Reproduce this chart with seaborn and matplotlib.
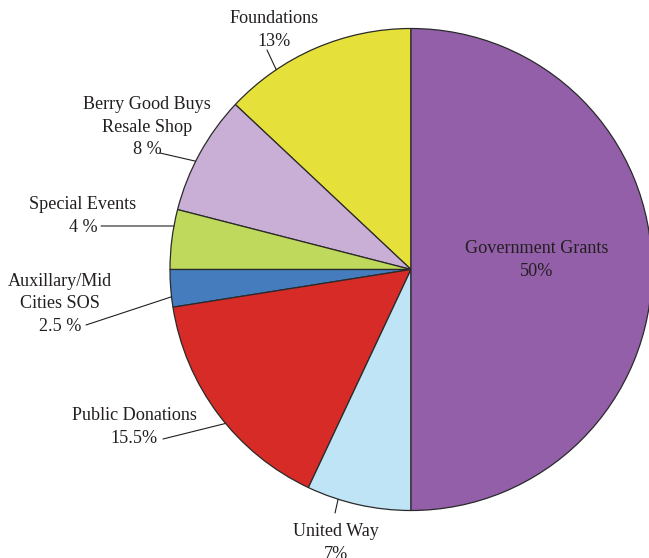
import numpy as np
import seaborn as sns
import matplotlib.pyplot as plt

# Funding sources (counter-clockwise from 12 o'clock)
sources = ['Foundations', 'Berry Good Buys\nResale Shop', 'Special Events',
           'Auxillary/Mid\nCities SOS', 'Public Donations', 'United Way',
           'Government Grants']
shares = [13, 8, 4, 2.5, 15.5, 7, 50]
share_labels = ['13%', '8 %', '4 %', '2.5 %', '15.5%', '7%', '50%']
slice_colors = ['#E5E13A', '#C9AFD5', '#BFD95C', '#457CBD',
                '#D62B27', '#BEE4F5', '#925FA8']

sns.set_style("white")
plt.rcParams['font.family'] = ['Liberation Serif', 'DejaVu Serif']

W, H = 649, 558
fig = plt.figure(figsize=(W / 100, H / 100), dpi=100)
ax = fig.add_axes([0, 0, 1, 1])

cx, cy, r = 411, H - 269.5, 241
ax.pie(shares, colors=sns.color_palette(slice_colors), startangle=90,
       counterclock=True, center=(cx, cy), radius=r,
       wedgeprops=dict(edgecolor='#2a2a2a', linewidth=0.9))
ax.set_xlim(0, W)
ax.set_ylim(0, H)
ax.set_aspect('equal')
ax.axis('off')

txt = '#231F20'
fs = 13.1
ls = 1.45

# label placement: text centre (px, top-down y), leader angle on rim, leader tail
layout = {
    0: dict(xy=(274, 30), ang=124.0, tail=(267, 50)),
    1: dict(xy=(147, 127), ang=153.3, tail=(160, 153)),
    2: dict(xy=(83, 216), ang=169.6, tail=(101, 226)),
    3: dict(xy=(60, 304), ang=186.5, tail=(86, 325)),
    4: dict(xy=(134, 427), ang=219.7, tail=(163, 439)),
    5: dict(xy=(336, 543), ang=252.4, tail=(335, 513)),
}

for i, (name, pct) in enumerate(zip(sources, share_labels)):
    if i in layout:
        L = layout[i]
        ax.text(L['xy'][0], H - L['xy'][1], f"{name}\n{pct}", ha='center',
                va='center', fontsize=fs, color=txt, linespacing=ls)
        a = np.deg2rad(L['ang'])
        ex, ey = cx + r * np.cos(a), cy + r * np.sin(a)
        ax.plot([L['tail'][0], ex], [H - L['tail'][1], ey], color=txt, lw=0.8)
    else:
        ax.text(537, H - 260, f"{name}\n{pct}", ha='center', va='center',
                fontsize=fs, color=txt, linespacing=ls)

fig.savefig('out.png', dpi=100)
